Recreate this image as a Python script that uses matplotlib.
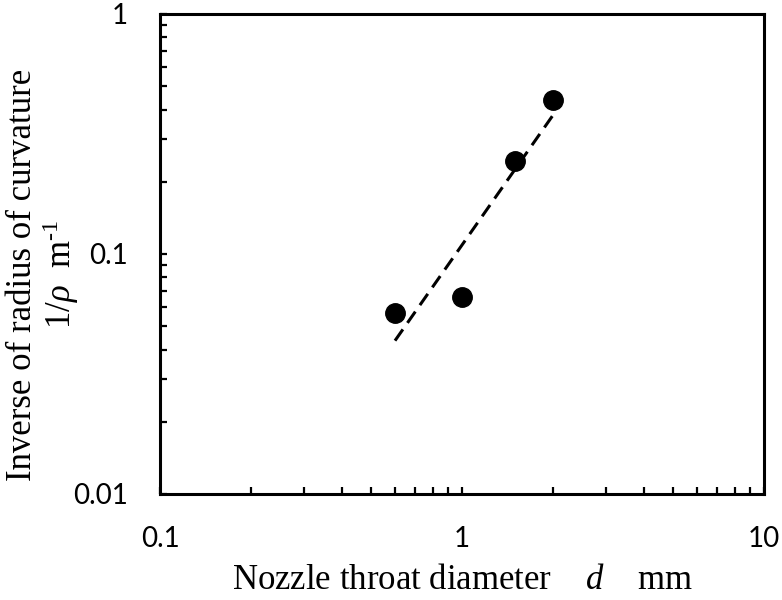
import numpy as np
import matplotlib.pyplot as plt
from matplotlib.ticker import LogLocator, FixedFormatter, FixedLocator

plt.rcParams['mathtext.fontset'] = 'custom'
plt.rcParams['mathtext.rm'] = 'Liberation Serif'
plt.rcParams['mathtext.it'] = 'Liberation Serif:italic'
plt.rcParams['font.family'] = ['Lato', 'DejaVu Sans']

# nozzle throat diameter d [mm] and inverse radius of curvature 1/rho [1/m]
d_mm = [0.6, 1.0, 1.5, 2.0]
inv_rho = [0.057, 0.066, 0.245, 0.44]

x_ticks = [0.1, 1, 10]
x_labels = ["0.1", "1", "10"]
y_ticks = [0.01, 0.1, 1]
y_labels = ["0.01", "0.1", "1"]

# power-law trend line through the points
coef = np.polyfit(np.log10(d_mm), np.log10(inv_rho), 1)
xfit = np.array([min(d_mm), max(d_mm)])
yfit = 10 ** np.polyval(coef, np.log10(xfit))

fig = plt.figure(figsize=(7.82, 6), dpi=100)
ax = fig.add_axes([160/782, 106/600, 604/782, 480/600])

ax.plot(xfit, yfit, color='black', lw=2.2, linestyle=(0, (4.5, 2.6)))
ax.plot(d_mm, inv_rho, 'o', color='black', markersize=14, zorder=3)

ax.set_xscale('log')
ax.set_yscale('log')
ax.set_xlim(0.1, 10)
ax.set_ylim(0.01, 1)

ax.xaxis.set_major_locator(FixedLocator(x_ticks))
ax.xaxis.set_major_formatter(FixedFormatter(x_labels))
ax.yaxis.set_major_locator(FixedLocator(y_ticks))
ax.yaxis.set_major_formatter(FixedFormatter(y_labels))
ax.xaxis.set_minor_locator(LogLocator(base=10, subs=np.arange(2, 10)))
ax.yaxis.set_minor_locator(LogLocator(base=10, subs=np.arange(2, 10)))
ax.xaxis.set_minor_formatter(plt.NullFormatter())
ax.yaxis.set_minor_formatter(plt.NullFormatter())

for s in ax.spines.values():
    s.set_linewidth(2.2)

ax.tick_params(which='both', direction='in', length=5, width=1.6,
               top=False, right=False)
ax.tick_params(which='major', pad=23, labelsize=20)

ax.set_xlabel(r"Nozzle throat diameter    $d$    mm",
              family='Liberation Serif', fontsize=25, va='top')
ax.xaxis.set_label_coords(0.5, -0.145)
ax.set_ylabel("Inverse of radius of curvature\n" + r"1/$\rho$  m$^{\text{-1}}$",
              family='Liberation Serif', fontsize=25, linespacing=1.05)
ax.yaxis.set_label_coords(-0.13, 0.457)

fig.savefig('out.png', dpi=100)
